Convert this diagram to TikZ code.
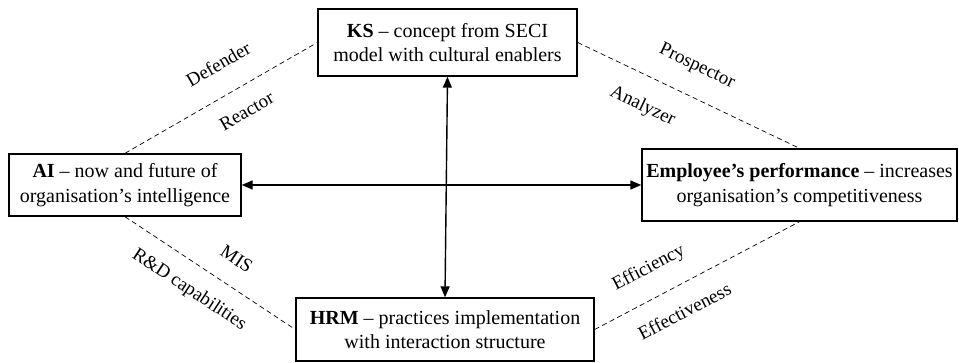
\documentclass[tikz,border=0pt]{standalone}
\usepackage{fontspec}
\setmainfont{Liberation Serif}
\usetikzlibrary{arrows.meta,positioning}

\begin{document}
\begin{tikzpicture}[
    x=1pt, y=-1pt,
    font=\fontsize{20}{24.5}\selectfont,
    block/.style={draw, line width=1.4pt, align=center, inner sep=2pt},
    link/.style={line width=0.7pt, dash pattern=on 5pt off 3.5pt},
    arrow/.style={{Triangle[length=11pt,width=9pt]}-{Triangle[length=11pt,width=9pt]}, line width=1.4pt},
    tag/.style={sloped, inner sep=0pt, text height=13pt, text depth=4pt, font=\fontsize{19}{21}\selectfont}
  ]
    \useasboundingbox (0,0) rectangle (959,363);

    \node[block, minimum width=259pt, minimum height=67pt] (ks) at (447.5,42.5) {\textbf{KS} -- concept from SECI\\model with cultural enablers};
    \node[block, minimum width=232pt, minimum height=62pt] (ai) at (125,185) {\textbf{AI} -- now and future of\\organisation's intelligence};
    \node[block, minimum width=315pt, minimum height=72pt] (emp) at (799.5,185) {\textbf{Employee's performance} -- increases\\organisation's competitiveness};
    \node[block, minimum width=298pt, minimum height=63pt] (hrm) at (445,329.5) {\textbf{HRM} -- practices implementation\\with interaction structure};

    \draw[arrow] (ks.south) -- (hrm.north);
    \draw[arrow] (ai.east) -- (emp.west);

    \draw[link] (ai.north) -- node[tag, pos=.565, above=20pt] {Defender} node[tag, pos=.57, below=17pt] {Reactor} (ks.west);
    \draw[link] (ks.east) -- node[tag, pos=.48, above=21pt] {Prospector} node[tag, pos=.35, below=21pt] {Analyzer} (emp.north);
    \draw[link] (ai.south) -- node[tag, pos=.57, above=16pt] {MIS} node[tag, pos=.46, below=17pt] {R\&D capabilities} (hrm.west);
    \draw[link] (hrm.east) -- node[tag, pos=.33, above=20pt] {Efficiency} node[tag, pos=.38, below=19pt] {Effectiveness} (emp.south);
  \end{tikzpicture}
\end{document}
